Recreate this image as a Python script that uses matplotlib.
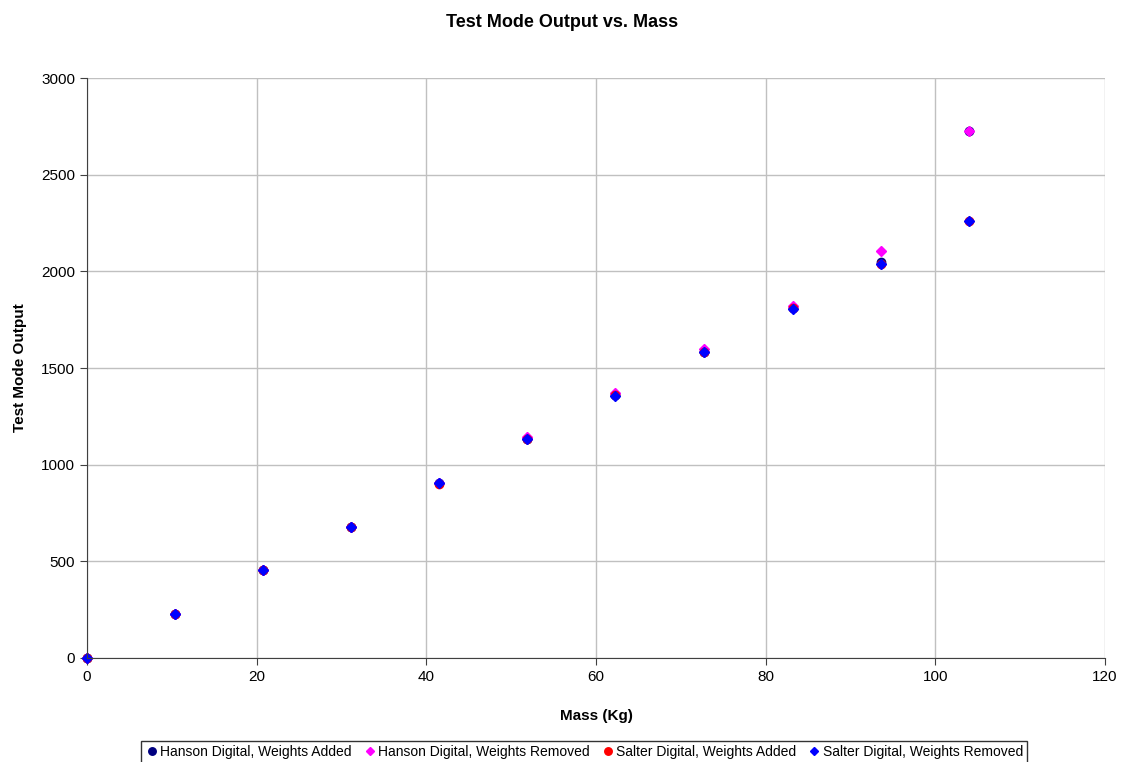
import matplotlib
matplotlib.use('Agg')
import matplotlib.pyplot as plt

plt.rcParams['font.family'] = ['Liberation Sans', 'DejaVu Sans']

# Mass values (Kg) and test mode outputs for each scale / direction
mass = [0, 10.4, 20.8, 31.1, 41.5, 51.9, 62.3, 72.7, 83.2, 93.6, 104.0]
hanson_added = [0, 228, 455, 678, 903, 1135, 1360, 1585, 1810, 2048, 2727]
hanson_removed = [0, 230, 457, 680, 907, 1142, 1370, 1596, 1822, 2105, 2727]
salter_added = [0, 226, 453, 676, 902, 1132, 1358, 1582, 1812, 2036, 2258]
salter_removed = [0, 226, 454, 676, 903, 1132, 1357, 1582, 1804, 2038, 2262]

fig = plt.figure(figsize=(11.25, 7.62), dpi=100)
ax = fig.add_axes([0.0773, 0.1365, 0.9049, 0.7611])

ax.plot(mass, hanson_added, 'o', color='#000080', markersize=6, clip_on=False, label='Hanson Digital, Weights Added')
ax.plot(mass, hanson_removed, 'D', color='#FF00FF', markersize=5, clip_on=False, label='Hanson Digital, Weights Removed')
ax.plot(mass, salter_added, 'o', color='#FF0000', markersize=6, clip_on=False, label='Salter Digital, Weights Added')
ax.plot(mass, salter_removed, 'D', color='#0000FF', markersize=5, clip_on=False, label='Salter Digital, Weights Removed')

ax.set_xlim(0, 120)
ax.set_ylim(0, 3000)
ax.set_xticks(range(0, 121, 20))
ax.set_yticks(range(0, 3001, 500))
ax.grid(True, color='#c0c0c0', linewidth=1)
ax.set_axisbelow(True)
for s in ['top', 'right']:
    ax.spines[s].set_visible(False)
for s in ['left', 'bottom']:
    ax.spines[s].set_color('#404040')
ax.tick_params(labelsize=11, length=5, direction='out', color='#404040')

ax.set_xlabel('Mass (Kg)', fontsize=11, fontweight='bold', labelpad=18)
ax.set_ylabel('Test Mode Output', fontsize=11, fontweight='bold', labelpad=10)
fig.suptitle('Test Mode Output vs. Mass', fontsize=13, fontweight='bold', y=0.982)

leg = fig.legend(loc='center', bbox_to_anchor=(0.519, 0.013), ncol=4, fontsize=10,
                 frameon=True, fancybox=False, edgecolor='black', handletextpad=0.1,
                 columnspacing=0.8, handlelength=1.0, borderpad=0.3, markerscale=0.9)
leg.get_frame().set_linewidth(1)

plt.savefig('out.png')
plt.close()
